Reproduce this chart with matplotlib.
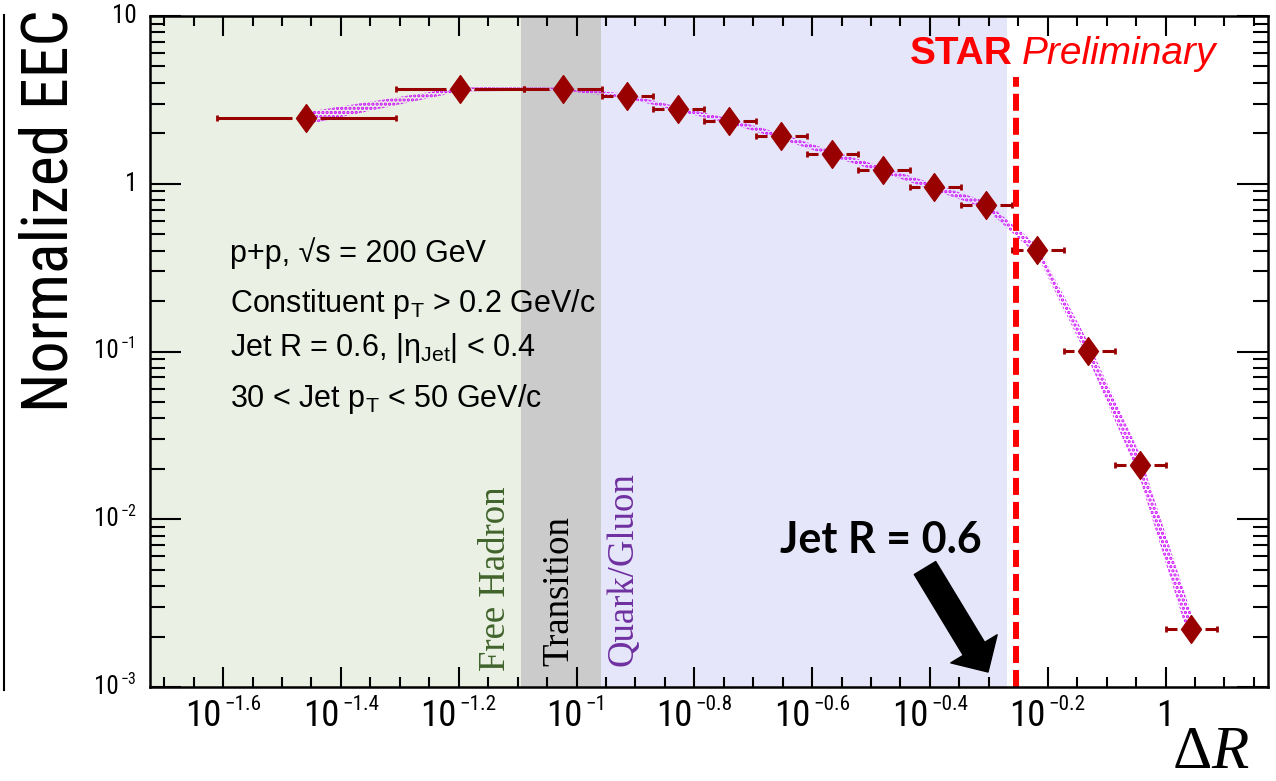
import numpy as np
import matplotlib
matplotlib.use("Agg")
import matplotlib.pyplot as plt
from matplotlib.path import Path
from matplotlib.lines import Line2D
from matplotlib import font_manager

# ---------------- data ----------------
delta_r = [0.03477, 0.06341, 0.09476, 0.1216, 0.1489, 0.1817, 0.2222, 0.2716,
           0.3314, 0.4046, 0.4951, 0.6056, 0.7395, 0.9035, 1.105]
eec = [2.455, 3.656, 3.67, 3.336, 2.79, 2.366, 1.918, 1.51,
       1.208, 0.956, 0.747, 0.401, 0.101, 0.0210, 0.00221]
bin_lo = [0.02455, 0.04936, 0.08152, 0.1104, 0.1349, 0.1649, 0.2014, 0.2461,
          0.3008, 0.3677, 0.4494, 0.5493, 0.6713, 0.8204, 1.0025]
bin_hi = [0.04936, 0.08152, 0.1104, 0.1349, 0.1649, 0.2014, 0.2461, 0.3008,
          0.3677, 0.4494, 0.5493, 0.6713, 0.8204, 1.0025, 1.2251]
sys_rel = [0.09, 0.03, 0.02, 0.03, 0.03, 0.035, 0.04, 0.04,
           0.04, 0.045, 0.05, 0.07, 0.12, 0.18, 0.25]

region_bounds = [0.0805, 0.1100, 0.539]   # free hadron | transition | quark/gluon end
region_names = ["Free Hadron", "Transition", "Quark/Gluon"]
jet_r_line = 0.557

x_major_exp = ["\u22121.6", "\u22121.4", "\u22121.2", "\u22121", "\u22120.8",
               "\u22120.6", "\u22120.4", "\u22120.2", None]
x_major_val = [10**-1.6, 10**-1.4, 10**-1.2, 10**-1.0, 10**-0.8,
               10**-0.6, 10**-0.4, 10**-0.2, 1.0]
y_major_val = [1e-3, 1e-2, 1e-1, 1.0, 10.0]
y_major_exp = ["\u22123", "\u22122", "\u22121", None, None]
y_major_base = ["10", "10", "10", "1", "10"]

info_lines = ["p+p, \u221as = 200 GeV",
              r"Constituent p$_{\mathregular{T}}$ > 0.2 GeV/c",
              r"Jet R = 0.6, |η$_{\mathregular{Jet}}$| < 0.4",
              r"30 < Jet p$_{\mathregular{T}}$ < 50 GeV/c"]

# ---------------- style ----------------
W, H = 1276, 781
plt.rcParams['font.family'] = ['Liberation Sans', 'DejaVu Sans']
plt.rcParams['mathtext.fontset'] = 'custom'
plt.rcParams['mathtext.rm'] = 'Liberation Sans'
plt.rcParams['mathtext.it'] = 'Liberation Sans:italic'
plt.rcParams['mathtext.bf'] = 'Liberation Sans:bold'
plt.rcParams['hatch.linewidth'] = 1.6

names = {f.name for f in font_manager.fontManager.ttflist}
if 'Liberation Sans Narrow' in names:
    NARROW = 'Liberation Sans Narrow'
    nscale = 1.0
elif 'Roboto Condensed' in names:
    NARROW = 'Roboto Condensed'
    nscale = 0.95
else:
    NARROW = 'Liberation Sans'
    nscale = 0.82

def fx(px):
    return px / W

def fy(py):
    return 1 - py / H

fig = plt.figure(figsize=(W / 100, H / 100), dpi=100)
ax = fig.add_axes([fx(150), fy(687), fx(1268) - fx(150), fy(16) - fy(687)])
ax.set_xscale('log')
ax.set_yscale('log')
xmin, xmax = 10**-1.7241, 10**0.174
ax.set_xlim(xmin, xmax)
ax.set_ylim(1e-3, 10)

# regions
ax.axvspan(xmin, region_bounds[0], color='#EAF1E4', lw=0, zorder=0)
ax.axvspan(region_bounds[0], region_bounds[1], color='#CBCBCB', lw=0, zorder=0)
ax.axvspan(region_bounds[1], region_bounds[2], color='#E6E6FA', lw=0, zorder=0)

# systematic band (dotted magenta)
x = np.array(delta_r)
y = np.array(eec)
s = np.array(sys_rel)
ax.fill_between(x, y / (1 + s), y * (1 + s), facecolor='none', edgecolor='#CC00FF',
                hatch='....', lw=0, zorder=2)

# x error bars with gap around the marker
gap = 10**(14 / 589.0)
col = '#990000'
ax.hlines(y, bin_lo, x / gap, color=col, lw=2.2, zorder=3)
ax.hlines(y, x * gap, bin_hi, color=col, lw=2.2, zorder=3)
ax.plot(bin_lo, y, ls='none', marker='|', ms=5, mew=2, color=col, zorder=3)
ax.plot(bin_hi, y, ls='none', marker='|', ms=5, mew=2, color=col, zorder=3)

diamond = Path([(0, 1), (0.72, 0), (0, -1), (-0.72, 0), (0, 1)],
               [Path.MOVETO, Path.LINETO, Path.LINETO, Path.LINETO, Path.CLOSEPOLY])
ax.plot(x, y, ls='none', marker=diamond, ms=20, color=col, mec=col, zorder=4)

# jet radius line
ax.axvline(jet_r_line, ymin=0, ymax=0.909, color='#FF0000', lw=4.3,
           dashes=(2.85, 1.17), zorder=3)

# ticks
ax.xaxis.set_major_locator(matplotlib.ticker.FixedLocator(x_major_val))
minors = [10**(k * 0.05) for k in range(-34, 4) if k % 4 != 0]
ax.xaxis.set_minor_locator(matplotlib.ticker.FixedLocator(minors))
ax.yaxis.set_major_locator(matplotlib.ticker.FixedLocator(y_major_val))
ax.yaxis.set_minor_locator(matplotlib.ticker.LogLocator(base=10, subs=np.arange(2, 10)))
ax.xaxis.set_major_formatter(matplotlib.ticker.NullFormatter())
ax.xaxis.set_minor_formatter(matplotlib.ticker.NullFormatter())
ax.yaxis.set_major_formatter(matplotlib.ticker.NullFormatter())
ax.yaxis.set_minor_formatter(matplotlib.ticker.NullFormatter())
ax.tick_params(which='both', direction='in', top=True, right=True, color='black')
ax.tick_params(axis='x', which='major', length=14.4, width=1.5)
ax.tick_params(axis='x', which='minor', length=7.2, width=1.5)
ax.tick_params(axis='y', which='major', length=22, width=1.5)
ax.tick_params(axis='y', which='minor', length=11, width=1.5)
for sp in ax.spines.values():
    sp.set_linewidth(1.8)
    sp.set_zorder(5)

# custom power labels
xl_base_fs = 28 * nscale
xl_exp_fs = 16 * nscale
yl_base_fs = 19 * nscale
yl_exp_fs = 12 * nscale
labels_x = []
for v, e in zip(x_major_val, x_major_exp):
    b = ax.annotate("10" if e else "1", xy=(v, 0), xycoords=('data', 'axes fraction'),
                    xytext=(0, -39), textcoords='offset pixels', ha='left', va='baseline',
                    fontsize=xl_base_fs, family=NARROW, annotation_clip=False)
    ex = None
    if e:
        ex = ax.annotate(e, xy=(v, 0), xycoords=('data', 'axes fraction'),
                         xytext=(0, -23), textcoords='offset pixels', ha='left', va='baseline',
                         fontsize=xl_exp_fs, family=NARROW, annotation_clip=False)
    labels_x.append((b, ex))
labels_y = []
for v, bs, e in zip(y_major_val, y_major_base, y_major_exp):
    b = ax.annotate(bs, xy=(0, v), xycoords=('axes fraction', 'data'),
                    xytext=(-13, -7), textcoords='offset pixels', ha='right', va='baseline',
                    fontsize=yl_base_fs, family=NARROW, annotation_clip=False)
    ex = None
    if e:
        ex = ax.annotate(e, xy=(0, v), xycoords=('axes fraction', 'data'),
                         xytext=(-13, 3), textcoords='offset pixels', ha='right', va='baseline',
                         fontsize=yl_exp_fs, family=NARROW, annotation_clip=False)
    labels_y.append((b, ex))

fig.canvas.draw()
r = fig.canvas.get_renderer()
for b, ex in labels_x:
    wb = b.get_window_extent(r).width
    we = ex.get_window_extent(r).width if ex is not None else 0
    g = 3 if ex is not None else 0
    tot = wb + g + we
    b.xyann = (-tot / 2, -39)
    if ex is not None:
        ex.xyann = (-tot / 2 + wb + g, -23)
for b, ex in labels_y:
    if ex is not None:
        we = ex.get_window_extent(r).width
        b.xyann = (-13 - we - 2, -7)

# axis titles
fig.text(fx(50), fy(412), "Normalized EEC", rotation=90, ha='center', va='bottom',
         fontsize=46 * nscale / 0.95 if NARROW != 'Liberation Sans' else 40, family=NARROW)
fig.text(fx(1173), fy(768), "\u0394", fontsize=44, family='Liberation Serif', va='baseline')
fig.text(fx(1211), fy(768), "R", fontsize=44, family='Liberation Serif', style='italic',
         va='baseline')

# info text
for txt, base in zip(info_lines, [262, 312, 356, 407]):
    fig.text(fx(230), fy(base), txt, fontsize=22, va='baseline', ha='left')

# region labels
region_cols = ['#41632B', 'black', '#7030A0']
region_pos = [(505, 671), (568, 666), (632, 666)]
for name, c, (px, py) in zip(region_names, region_cols, region_pos):
    fig.text(fx(px), fy(py), name, rotation=90, rotation_mode='anchor', ha='left',
             va='baseline', fontsize=26.5, family='Liberation Serif', color=c)

# STAR Preliminary
fig.text(fx(910), fy(64), "STAR", fontsize=28, weight='bold', color='#FF0000', va='baseline')
fig.text(fx(1022), fy(64), "Preliminary", fontsize=28, style='italic', color='#FF0000',
         va='baseline')

# Jet R annotation
fig.text(fx(780), fy(553), "Jet R = 0.6", fontsize=31, weight='bold', family='Lato',
         va='baseline', color='black')
ax.annotate('', xy=(988, H - 672), xytext=(925, H - 568), xycoords='figure pixels',
            textcoords='figure pixels',
            arrowprops=dict(arrowstyle='simple,head_length=0.65,head_width=1.3,tail_width=0.6',
                            mutation_scale=30, fc='black', ec='black', shrinkA=0, shrinkB=0))

# fragment of neighbouring panel frame
fig.add_artist(Line2D([fx(4), fx(4)], [fy(15), fy(690)], color='black', lw=1.5))

fig.savefig('out.png', dpi=100)
